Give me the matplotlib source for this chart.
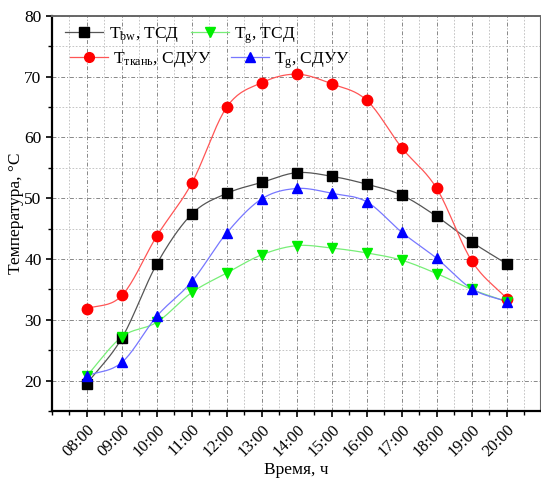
import numpy as np
import matplotlib
matplotlib.use("Agg")
import matplotlib.pyplot as plt
import matplotlib.transforms as mtransforms
from matplotlib.ticker import MultipleLocator

plt.rcParams['font.family'] = ['Liberation Serif', 'DejaVu Serif']
plt.rcParams['mathtext.fontset'] = 'custom'
plt.rcParams['mathtext.rm'] = 'Liberation Serif'
plt.rcParams['mathtext.it'] = 'Liberation Serif'

hours = ['08:00', '09:00', '10:00', '11:00', '12:00', '13:00', '14:00',
         '15:00', '16:00', '17:00', '18:00', '19:00', '20:00']
t_bw_tsd = [19.5, 27.0, 39.2, 47.4, 50.8, 52.6, 54.2, 53.6, 52.3, 50.5, 47.0, 42.8, 39.2]
t_g_tsd = [20.8, 27.2, 29.6, 34.5, 37.7, 40.7, 42.2, 41.8, 41.0, 39.8, 37.6, 35.0, 33.0]
t_tkan_sduu = [31.8, 34.0, 43.8, 52.5, 65.0, 69.0, 70.4, 68.8, 66.1, 58.3, 51.6, 39.7, 33.5]
t_g_sduu = [20.8, 23.0, 30.6, 36.3, 44.3, 49.9, 51.6, 50.8, 49.4, 44.4, 40.1, 35.1, 33.0]


def smooth(y, n=20):
    # Catmull-Rom curve through the data points (line style only)
    y = np.asarray(y, dtype=float)
    p = np.concatenate([[2 * y[0] - y[1]], y, [2 * y[-1] - y[-2]]])
    xs, ys = [], []
    for i in range(len(y) - 1):
        p0, p1, p2, p3 = p[i], p[i + 1], p[i + 2], p[i + 3]
        t = np.linspace(0, 1, n, endpoint=False)
        seg = 0.5 * ((2 * p1) + (-p0 + p2) * t + (2 * p0 - 5 * p1 + 4 * p2 - p3) * t ** 2
                     + (-p0 + 3 * p1 - 3 * p2 + p3) * t ** 3)
        xs.append(i + t)
        ys.append(seg)
    xs.append([len(y) - 1])
    ys.append([y[-1]])
    return np.concatenate(xs), np.concatenate(ys)


fig = plt.figure(figsize=(5.41, 4.79), dpi=100)
ax = fig.add_axes([0.096, 0.142, 0.902, 0.825])

x = np.arange(len(hours))
series = {
    'bw_tsd': (t_bw_tsd, 'black', '#555555', 's', 'T$_{\\mathregular{bw}}$, ТСД'),
    'g_tsd': (t_g_tsd, '#00ee00', '#77ee77', 'v', 'T$_{\\mathregular{g}}$, ТСД'),
    'tkan_sduu': (t_tkan_sduu, 'red', '#ff5555', 'o', 'T$_{\\mathregular{ткань}}$, СДУУ'),
    'g_sduu': (t_g_sduu, 'blue', '#7777ff', '^', 'T$_{\\mathregular{g}}$, СДУУ'),
}
handles = {}
for key in ['bw_tsd', 'tkan_sduu', 'g_tsd', 'g_sduu']:
    vals, col, line_col, mk, lab = series[key]
    sx, sy = smooth(vals)
    ax.plot(sx, sy, color=line_col, lw=0.9, zorder=2)
    ax.plot(x, vals, linestyle='none', marker=mk, color=col, markersize=7.5, zorder=3)
    h, = ax.plot([], [], color=line_col, lw=0.9, marker=mk, markerfacecolor=col,
                 markeredgecolor=col, markersize=7)
    handles[key] = (h, lab)

ax.set_xlim(-1, 12.95)
ax.set_ylim(15, 80)
ax.set_xticks(x)
ax.set_xticklabels(hours, rotation=45, ha='right', rotation_mode='anchor', fontsize=12)
shift = mtransforms.ScaledTranslation(8 / 100, -10 / 100, fig.dpi_scale_trans)
for lbl in ax.get_xticklabels():
    lbl.set_transform(lbl.get_transform() + shift)
ax.xaxis.set_minor_locator(MultipleLocator(0.5))
ax.yaxis.set_major_locator(MultipleLocator(10))
ax.yaxis.set_minor_locator(MultipleLocator(5))
ax.tick_params(axis='y', labelsize=12.5)
ax.tick_params(which='major', direction='out', length=4, width=1.2)
ax.tick_params(which='minor', direction='out', length=3, width=1.0)

ax.grid(which='major', color='#888888', linestyle=(0, (4, 2, 1, 2)), lw=0.7)
ax.grid(which='minor', color='#bbbbbb', linestyle=(0, (2, 2)), lw=0.6)
ax.set_axisbelow(True)

ax.spines['left'].set_linewidth(1.6)
ax.spines['bottom'].set_linewidth(1.6)
ax.spines['top'].set_color('#666666')
ax.spines['top'].set_linewidth(1.4)
ax.spines['right'].set_color('#666666')

ax.set_xlabel('Время, ч', fontsize=12.5)
ax.xaxis.set_label_coords(0.5, -0.13)
ax.set_ylabel('Температура, °C', fontsize=12.5)
ax.yaxis.set_label_coords(-0.058, 0.5)

# two legend rows, each laid out on its own like the original
leg_kw = dict(ncol=2, loc='center left', frameon=False, fontsize=12.5, handlelength=2.2,
              handletextpad=0.3, borderpad=0, borderaxespad=0)
row1 = [handles['bw_tsd'], handles['g_tsd']]
row2 = [handles['tkan_sduu'], handles['g_sduu']]
leg1 = ax.legend([h for h, _ in row1], [l for _, l in row1], bbox_to_anchor=(0.027, 0.95),
                 columnspacing=0.7, **leg_kw)
ax.add_artist(leg1)
ax.legend([h for h, _ in row2], [l for _, l in row2], bbox_to_anchor=(0.037, 0.887),
          columnspacing=1.1, **leg_kw)

fig.savefig('out.png', dpi=100)
